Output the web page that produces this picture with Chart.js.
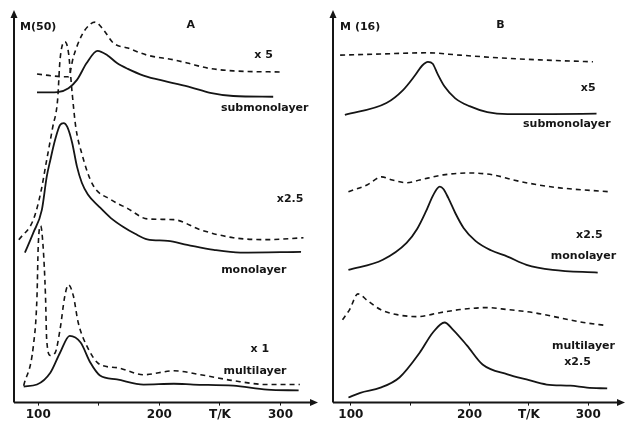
<!DOCTYPE html>
<html>
<head>
<meta charset="utf-8">
<script src="https://cdn.jsdelivr.net/npm/chart.js@4/dist/chart.umd.min.js"></script>
<style>
  body { margin: 0; background: #fff; }
  .panel { position: absolute; top: 0; height: 426px; }
  #wrapA { left: 0; width: 325px; }
  #wrapB { left: 325px; width: 302px; }
</style>
</head>
<body>
<div class="panel" id="wrapA"><canvas id="chartA"></canvas></div>
<div class="panel" id="wrapB"><canvas id="chartB"></canvas></div>
<script>
// x axis (T/K)
const tickValues = [100, 150, 200, 250, 300];
const tickLabels = ['100', '', '200', 'T/K', '300'];

// panel A, M(50) signal, [T/K, intensity (arb., offset)]
const aSubSolid = [[99,79.0],[116,79.1],[125,80.1],[132,82.2],[140,86.5],[149,89.6],[157,88.5],[165,86.5],[174,85.0],[187,83.3],[207,81.7],[226,80.3],[242,78.9],[261,78.1],[294,77.9]];
const aSubDash = [[99,83.7],[112,83.2],[121,83.0],[125,83.0],[129,88.0],[136,93.6],[143,96.4],[147,96.9],[154,94.9],[162,91.6],[174,90.3],[190,88.5],[212,87.3],[223,86.5],[240,85.2],[261,84.5],[302,84.2]];
const aMonoSolid = [[89,38.2],[96,43.3],[103,49.1],[107,57.5],[110,61.8],[114,67.0],[118,70.7],[121,71.2],[124,70.2],[128,66.2],[132,60.1],[136,56.0],[141,53.0],[150,50.0],[160,47.0],[170,44.8],[180,43.0],[190,41.6],[207,41.2],[223,40.2],[245,38.9],[267,38.2],[317,38.4]];
const aMonoDash = [[84,41.5],[96,46.6],[102,53.4],[107,61.8],[112,70.2],[116,77.1],[118,87.3],[122,91.9],[125,89.1],[128,78.9],[131,70.2],[136,63.4],[145,55.5],[160,51.7],[174,49.4],[190,46.8],[212,46.6],[234,44.0],[261,42.0],[289,41.5],[319,42.0]];
const aMultiSolid = [[88,4.1],[99,4.6],[110,7.6],[118,12.7],[126,17.0],[135,15.3],[143,10.2],[151,6.9],[165,5.9],[187,4.6],[212,4.8],[228,4.6],[261,4.3],[289,3.3],[315,3.1]];
const aMultiDash = [[88,4.3],[96,14.5],[99,27.2],[100,39.9],[102,45.0],[104,39.9],[106,27.2],[107,16.0],[110,12.0],[114,12.7],[118,18.6],[122,27.2],[125,30.0],[129,27.2],[133,20.4],[140,14.5],[151,9.7],[165,8.9],[187,7.1],[212,8.1],[234,7.1],[261,5.6],[289,4.6],[316,4.6]];

// panel B, M(16) signal
const bSubSolid = [[95,73.3],[130,76.3],[144,79.6],[154,83.3],[160,85.8],[165,86.8],[169,86.3],[173,83.8],[179,80.5],[188,77.5],[200,75.5],[215,74.0],[232,73.5],[270,73.5],[307,73.6]];
const bSubDash = [[91,88.5],[125,88.8],[164,89.1],[192,88.5],[226,87.8],[259,87.3],[304,86.8]];
const bMonoSolid = [[98,33.8],[127,36.4],[147,40.7],[156,44.3],[163,48.5],[169,52.6],[173,54.6],[175,55.0],[178,54.4],[182,52.2],[188,48.3],[195,44.5],[205,41.2],[218,38.8],[232,37.2],[248,35.1],[270,33.8],[308,33.1]];
const bMonoDash = [[98,53.7],[114,55.5],[126,57.5],[135,56.7],[147,56.0],[158,56.7],[178,58.0],[200,58.5],[220,58.0],[237,56.7],[257,55.5],[276,54.7],[318,53.7]];
const bMultiSolid = [[98,1.3],[108,2.5],[125,3.8],[141,6.4],[158,12.7],[169,17.8],[179,20.4],[186,18.6],[198,14.5],[211,9.7],[232,7.2],[248,5.9],[265,4.6],[285,4.3],[299,3.8],[316,3.6]];
const bMultiDash = [[93,21.1],[99,23.7],[106,27.7],[114,26.0],[125,23.7],[139,22.4],[156,21.9],[175,22.9],[192,23.7],[215,24.2],[232,23.7],[254,22.9],[276,21.6],[296,20.4],[316,19.6]];

// text in the panels, placed at [T, intensity]
const notesA = [
  ['M(50)', 85, 95.7, 'left'], ['A', 226, 96.2, 'center'],
  ['x 5', 286, 88.5, 'center'], ['submonolayer', 287, 75.1, 'center'],
  ['x2.5', 308, 51.9, 'center'], ['monolayer', 278, 33.8, 'center'],
  ['x 1', 283, 13.5, 'center'], ['multilayer', 279, 8.1, 'center']
];
const notesB = [
  ['M (16)', 91, 95.7, 'left'], ['B', 226, 96.2, 'center'],
  ['x5', 300, 80.2, 'center'], ['submonolayer', 282, 71.0, 'center'],
  ['x2.5', 301, 42.7, 'center'], ['monolayer', 296, 37.4, 'center'],
  ['multilayer', 296, 14.5, 'center'], ['x2.5', 291, 10.2, 'center']
];

const ink = '#151515';

function line(points, dashed) {
  return {
    data: points.map(p => ({ x: p[0], y: p[1] })),
    borderColor: ink,
    borderWidth: dashed ? 1.6 : 1.8,
    borderDash: dashed ? [5, 4] : [],
    pointRadius: 0,
    fill: false,
    cubicInterpolationMode: 'monotone'
  };
}

const axesPlugin = {
  id: 'axesPlugin',
  afterDraw(chart, args, opts) {
    const { ctx, chartArea: { left, right, top, bottom }, scales: { x, y } } = chart;
    ctx.save();
    ctx.strokeStyle = ink;
    ctx.fillStyle = ink;
    ctx.lineWidth = 2;
    ctx.beginPath();
    ctx.moveTo(left, bottom); ctx.lineTo(left, top + 4);
    ctx.moveTo(left, bottom); ctx.lineTo(right - 4, bottom);
    ctx.stroke();
    // arrow heads
    ctx.beginPath();
    ctx.moveTo(left, top); ctx.lineTo(left - 3.5, top + 8); ctx.lineTo(left + 3.5, top + 8);
    ctx.closePath(); ctx.fill();
    ctx.beginPath();
    ctx.moveTo(right, bottom); ctx.lineTo(right - 8, bottom - 3.5); ctx.lineTo(right - 8, bottom + 3.5);
    ctx.closePath(); ctx.fill();
    // labels
    ctx.font = 'bold 11px "DejaVu Sans"';
    ctx.textBaseline = 'middle';
    opts.notes.forEach(n => {
      ctx.textAlign = n[3];
      ctx.fillText(n[0], x.getPixelForValue(n[1]), y.getPixelForValue(n[2]));
    });
    ctx.restore();
  }
};

function makeChart(id, sets, xMin, xMax, pad, notes) {
  return new Chart(document.getElementById(id).getContext('2d'), {
    type: 'line',
    data: { datasets: sets },
    options: {
      responsive: true,
      maintainAspectRatio: false,
      animation: false,
      layout: { padding: pad },
      plugins: {
        legend: { display: false },
        tooltip: { enabled: false },
        axesPlugin: { notes: notes }
      },
      scales: {
        x: {
          type: 'linear',
          min: xMin,
          max: xMax,
          afterBuildTicks: s => { s.ticks = tickValues.map(v => ({ value: v })); },
          ticks: {
            autoSkip: false,
            maxRotation: 0,
            padding: 2,
            color: ink,
            font: { family: 'DejaVu Sans', size: 12, weight: 'bold' },
            callback: (v) => tickLabels[tickValues.indexOf(v)] ?? ''
          },
          grid: { drawOnChartArea: false, drawTicks: true, tickLength: 3, color: ink, lineWidth: 1 },
          border: { display: false }
        },
        y: { display: false, min: 0, max: 100 }
      }
    },
    plugins: [axesPlugin]
  });
}

makeChart('chartA', [
  line(aSubSolid, false), line(aSubDash, true),
  line(aMonoSolid, false), line(aMonoDash, true),
  line(aMultiSolid, false), line(aMultiDash, true)
], 80, 331, { left: 14, right: 7, top: 10, bottom: 2 }, notesA);

makeChart('chartB', [
  line(bSubSolid, false), line(bSubDash, true),
  line(bMonoSolid, false), line(bMonoDash, true),
  line(bMultiSolid, false), line(bMultiDash, true)
], 85, 331, { left: 8, right: 2, top: 10, bottom: 2 }, notesB);
</script>
</body>
</html>
